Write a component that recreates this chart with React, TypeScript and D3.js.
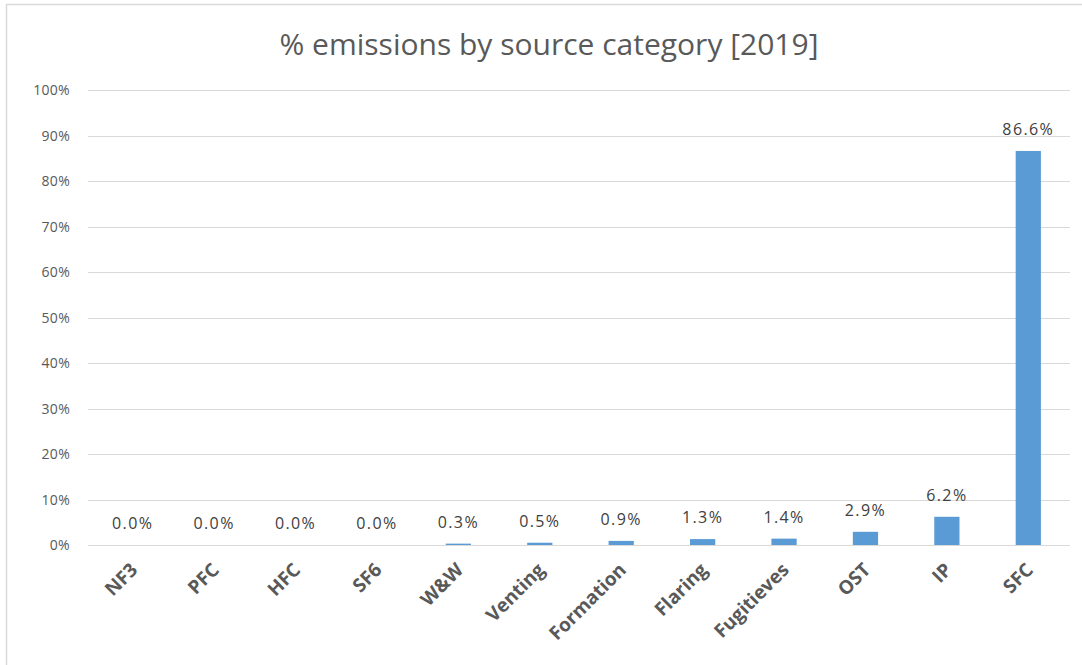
import React from "react";
import * as d3 from "d3";

const categories = ["NF3", "PFC", "HFC", "SF6", "W&W", "Venting", "Formation", "Flaring", "Fugitieves", "OST", "IP", "SFC"];
const shares = [0.0, 0.0, 0.0, 0.0, 0.3, 0.5, 0.9, 1.3, 1.4, 2.9, 6.2, 86.6];
const yTicks = [0, 10, 20, 30, 40, 50, 60, 70, 80, 90, 100];
const title = "% emissions by source category [2019]";

const W = 1082;
const H = 665;
const FONT = "'Open Sans', 'Liberation Sans', sans-serif";

export default function App() {
  const x = d3.scaleBand<string>().domain(categories).range([92, 1069]).paddingInner(0.69).paddingOuter(0.345);
  const y = d3.scaleLinear().domain([0, 100]).range([545, 90]);
  const gridX0 = 88;
  const gridX1 = 1070;

  return (
    <svg width={W} height={H} style={{ position: "absolute", left: 0, top: 0, background: "#fff" }}>
      <rect x={6.5} y={4.5} width={1200} height={800} fill="#fff" stroke="#d9d9d9" strokeWidth={1.5} />
      <text x={549} y={55} textAnchor="middle" fontFamily={FONT} fontSize={30} fill="#595959">
        {title}
      </text>
      {yTicks.map((t) => (
        <g key={t}>
          <line x1={gridX0} x2={gridX1} y1={Math.round(y(t)) + 0.5} y2={Math.round(y(t)) + 0.5} stroke="#d9d9d9" strokeWidth={1.2} />
          <text x={70} y={y(t) + 5} textAnchor="end" fontFamily={FONT} fontSize={14} letterSpacing={0.3} fill="#595959">
            {`${t}%`}
          </text>
        </g>
      ))}
      {categories.map((c, i) => {
        const bx = x(c)!;
        const cx = bx + x.bandwidth() / 2;
        const top = y(shares[i]);
        return (
          <g key={c}>
            <rect x={bx} y={top} width={x.bandwidth()} height={y(0) - top} fill="#5b9bd5" />
            <text x={cx} y={top - 16} textAnchor="middle" fontFamily={FONT} fontSize={16} letterSpacing={1.4} fill="#404040">
              {`${shares[i].toFixed(1)}%`}
            </text>
            <text
              transform={`translate(${cx - 4},${561}) rotate(-45)`}
              textAnchor="end"
              dy="0.75em"
              fontFamily={FONT}
              fontSize={19}
              fontWeight="bold"
              fill="#595959"
            >
              {c}
            </text>
          </g>
        );
      })}
    </svg>
  );
}
